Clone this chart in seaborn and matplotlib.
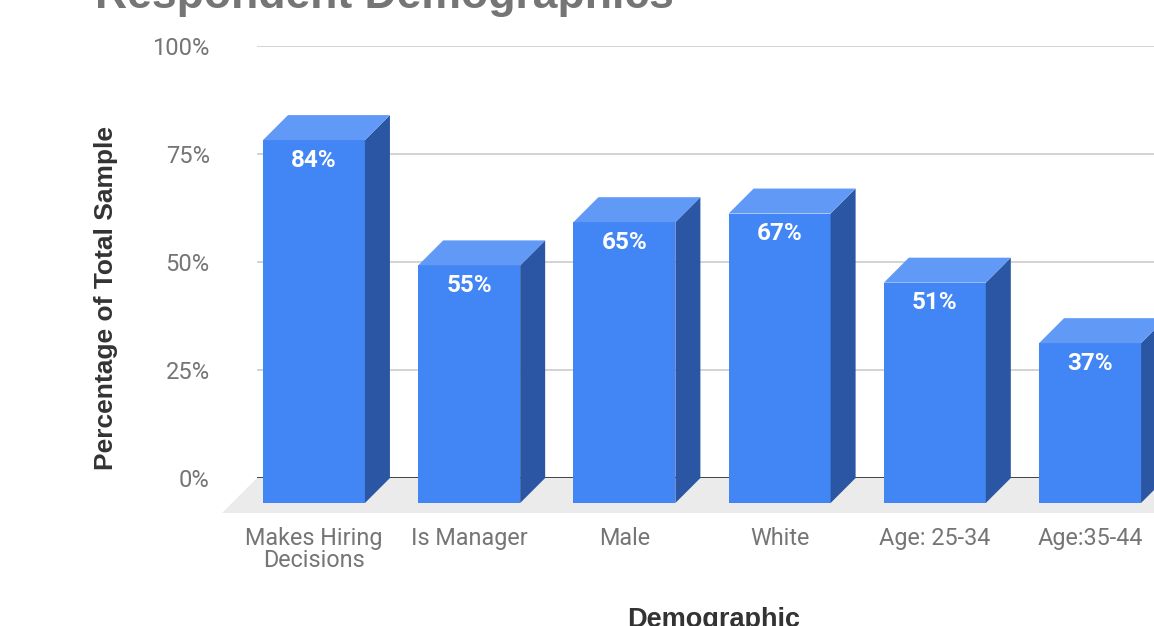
import matplotlib
matplotlib.use("Agg")
import matplotlib.pyplot as plt
import matplotlib.transforms as mtransforms
from matplotlib.patches import Polygon
import seaborn as sns
import pandas as pd

# ---- data ----
categories = ["Makes Hiring\nDecisions", "Is Manager", "Male", "White", "Age: 25-34", "Age:35-44"]
values = [84, 55, 65, 67, 51, 37]
ytick_values = [0, 25, 50, 75, 100]
ytick_labels = ["0%", "25%", "50%", "75%", "100%"]
title = "Respondent Demographics"
xlabel = "Demographic"
ylabel = "Percentage of Total Sample"

FRONT = "#4285f4"
SIDE = "#2b56a3"
TOP = "#6099f6"
FLOOR = "#ebebeb"

sns.set_theme(style="white")
plt.rcParams["font.family"] = ["Roboto", "DejaVu Sans"]

W, H, DPI = 1154, 626, 100
fig = plt.figure(figsize=(W / DPI, H / DPI), dpi=DPI)

# axes = back plane of the 3D chart (pixel geometry)
ax_l, ax_r, ax_top, ax_bot = 257, 1231, 46, 478
ax = fig.add_axes([ax_l / W, (H - ax_bot) / H, (ax_r - ax_l) / W, (ax_bot - ax_top) / H])

df = pd.DataFrame({"cat": categories, "val": values})
sns.barplot(data=df, x="cat", y="val", ax=ax, color=FRONT, saturation=1,
            width=0.657, linewidth=0, zorder=3)

ax.set_xlim(-0.528, 5.747)
ax.set_ylim(0, 100)

# depth of bars in data units (25 px)
px_per_x = (ax_r - ax_l) / (5.747 + 0.528)
px_per_y = (ax_bot - ax_top) / 100
depth_px = 25
ddx = depth_px / px_per_x
ddy = depth_px / px_per_y
floor_px = 35
fdx = floor_px / px_per_x
fdy = floor_px / px_per_y

# floor
x0l, x1l = ax.get_xlim()
floor = Polygon([(x0l, 0), (x1l + 1, 0), (x1l + 1 - fdx, -fdy), (x0l - fdx, -fdy)],
                closed=True, facecolor=FLOOR, edgecolor="none", zorder=0.5, clip_on=False)
ax.add_patch(floor)

# gridlines
for v in ytick_values:
    if v == 0:
        ax.axhline(v, color="#333333", lw=1.3, zorder=1)
    else:
        ax.axhline(v, color="#cccccc", lw=1.2, zorder=1)

# move bars to the front plane, add side & top faces
front_offset = mtransforms.ScaledTranslation(-depth_px / DPI, -depth_px / DPI, fig.dpi_scale_trans)
for p in ax.patches:
    if p is floor:
        continue
    p.set_transform(ax.transData + front_offset)
    p.set_clip_on(False)
    x0 = p.get_x()
    x1 = x0 + p.get_width()
    h = p.get_height()
    side = Polygon([(x1 - ddx, -ddy), (x1 - ddx, h - ddy), (x1, h), (x1, 0)],
                   closed=True, facecolor=SIDE, edgecolor="none", zorder=3, clip_on=False)
    top = Polygon([(x0 - ddx, h - ddy), (x1 - ddx, h - ddy), (x1, h), (x0, h)],
                  closed=True, facecolor=TOP, edgecolor="none", zorder=3, clip_on=False)
    ax.add_patch(side)
    ax.add_patch(top)
    ax.annotate(f"{h:.0f}%", xy=(x0 + p.get_width() / 2 - ddx, h - ddy),
                xytext=(0, -20), textcoords="offset pixels",
                ha="center", va="center", color="white", fontsize=17.5,
                fontweight="bold", zorder=5, annotation_clip=False)

# ticks
ax.set_yticks(ytick_values)
ax.set_yticklabels(ytick_labels)
ax.tick_params(axis="y", length=0, pad=34, labelsize=17, labelcolor="#757575")
ax.tick_params(axis="x", length=0, pad=35, labelsize=16.8, labelcolor="#757575")
xoff = mtransforms.ScaledTranslation(-depth_px / DPI, 0, fig.dpi_scale_trans)
for lab in ax.get_xticklabels():
    lab.set_transform(lab.get_transform() + xoff)
    lab.set_linespacing(0.95)

for s in ax.spines.values():
    s.set_visible(False)
ax.set_facecolor("none")
ax.set_xlabel("")
ax.set_ylabel(ylabel, fontsize=19, fontweight="bold", color="#333333",
              family=["Liberation Sans", "DejaVu Sans"])
ax.yaxis.set_label_coords((118 - ax_l) / (ax_r - ax_l), (ax_bot - 298) / (ax_bot - ax_top))

fig.text(95 / W, 1 - 8 / H, title, fontsize=32, fontweight="bold", color="#757575",
         ha="left", va="baseline", family=["Liberation Sans", "DejaVu Sans"])
fig.text(714 / W, 1 - 607 / H, xlabel, fontsize=19.5, fontweight="bold", color="#333333",
         ha="center", va="top", family=["Liberation Sans", "DejaVu Sans"])

fig.savefig("out.png", dpi=DPI)
